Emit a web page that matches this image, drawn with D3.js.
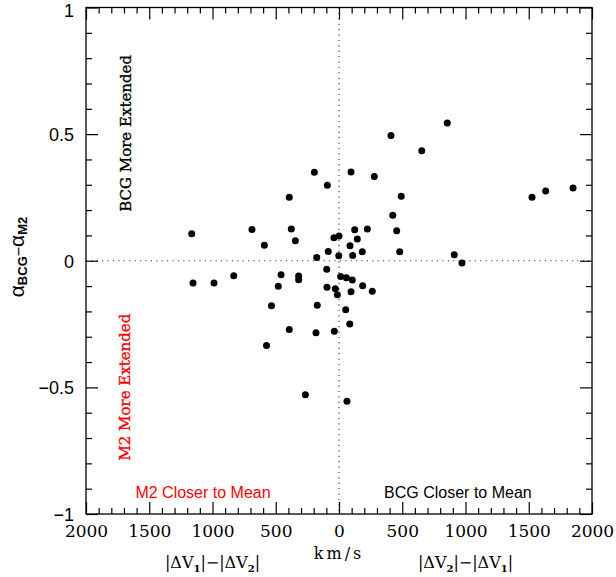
<!DOCTYPE html>
<html>
<head>
<meta charset="utf-8">
<script src="https://cdn.jsdelivr.net/npm/d3@7"></script>
<style>
  html, body { margin: 0; padding: 0; background: #fff; }
  svg { display: block; }
</style>
</head>
<body>
<svg id="chart" width="616" height="577"></svg>
<script>
// Velocity offset |ΔV2|-|ΔV1| (km/s): negative = M2 closer to the cluster mean
const deltaV = [-1164, -1154, -988, -832, -688, -590, -458, -480, -534, -573,
  -393, -377, -345, -319, -319, -393, -266, -195, -92, -176,
  -172, -182, -97, -95, -85, -40, 0, -2, -29, -13,
  -37, 13, 58, 105, 53, 85, 63, 95, 95, 87,
  108, 124, 145, 184, 187, 224, 263, 279, 411, 425,
  456, 480, 492, 654, 856, 911, 972, 1526, 1634, 1850];

// Profile slope difference α_BCG - α_M2
const deltaAlpha = [0.107, -0.088, -0.088, -0.059, 0.123, 0.061, -0.055, -0.101, -0.178, -0.335,
  0.251, 0.125, 0.079, -0.060, -0.075, -0.271, -0.529, 0.349, 0.298, 0.013,
  -0.176, -0.284, -0.034, -0.105, 0.037, 0.091, 0.098, 0.020, -0.111, -0.134,
  -0.278, -0.062, -0.067, -0.076, -0.193, -0.250, -0.555, 0.350, -0.122, 0.059,
  0.021, 0.122, 0.086, 0.036, -0.099, 0.125, -0.120, 0.333, 0.495, 0.180,
  0.118, 0.036, 0.255, 0.434, 0.544, 0.024, -0.009, 0.251, 0.275, 0.287];

const xTicks = [-2000, -1500, -1000, -500, 0, 500, 1000, 1500, 2000];
const yTicks = [-1, -0.5, 0, 0.5, 1];
const yTickLabels = ["\u22121", "\u22120.5", "0", "0.5", "1"];

const xMinor = d3.range(-2000, 2001, 100).filter(v => v % 500 !== 0);
const yMinor = d3.range(-10, 11).map(v => v / 10).filter(v => Math.abs(v * 2 - Math.round(v * 2)) > 1e-6);

const svg = d3.select("#chart");
const L = 86, R = 592, T = 7.5, B = 514;

const x = d3.scaleLinear().domain([-2000, 2000]).range([L, R]);
const y = d3.scaleLinear().domain([-1, 1]).range([B, T]);

// zero reference lines
const zl = svg.append("g").attr("stroke", "#444").attr("stroke-width", 1.2)
  .attr("stroke-dasharray", "1.2,4.2").attr("fill", "none");
zl.append("line").attr("x1", L).attr("x2", R).attr("y1", y(0)).attr("y2", y(0));
zl.append("line").attr("x1", x(0)).attr("x2", x(0)).attr("y1", T).attr("y2", B);

function styleAxis(g) {
  g.select(".domain").remove();
  g.selectAll(".tick line").attr("stroke", "#000").attr("stroke-width", 1.2);
}

// bottom axis with labels
svg.append("g").attr("transform", `translate(0,${B})`)
  .call(d3.axisBottom(x).tickValues(xTicks).tickSize(-12).tickPadding(11)
    .tickFormat(d => Math.abs(d)))
  .call(styleAxis)
  .call(g => g.selectAll("text").attr("font-family", "DejaVu Serif")
    .attr("font-size", 17).attr("fill", "#000"));
svg.append("g").attr("transform", `translate(0,${B})`)
  .call(d3.axisBottom(x).tickValues(xMinor).tickSize(-6).tickFormat(""))
  .call(styleAxis);

// top axis (ticks only)
svg.append("g").attr("transform", `translate(0,${T})`)
  .call(d3.axisTop(x).tickValues(xTicks).tickSize(-12).tickFormat(""))
  .call(styleAxis);
svg.append("g").attr("transform", `translate(0,${T})`)
  .call(d3.axisTop(x).tickValues(xMinor).tickSize(-6).tickFormat(""))
  .call(styleAxis);

// left axis with labels (topmost label nudged down to stay inside the page)
svg.append("g").attr("transform", `translate(${L},0)`)
  .call(d3.axisLeft(y).tickValues(yTicks).tickSize(-12).tickPadding(12)
    .tickFormat((d, i) => yTickLabels[i]))
  .call(styleAxis)
  .call(g => g.selectAll("text").attr("font-family", "Liberation Sans")
    .attr("font-size", 18).attr("fill", "#000")
    .attr("dy", d => d === 1 ? "0.5em" : "0.36em"));
svg.append("g").attr("transform", `translate(${L},0)`)
  .call(d3.axisLeft(y).tickValues(yMinor).tickSize(-6).tickFormat(""))
  .call(styleAxis);

// right axis (ticks only)
svg.append("g").attr("transform", `translate(${R},0)`)
  .call(d3.axisRight(y).tickValues(yTicks).tickSize(-12).tickFormat(""))
  .call(styleAxis);
svg.append("g").attr("transform", `translate(${R},0)`)
  .call(d3.axisRight(y).tickValues(yMinor).tickSize(-6).tickFormat(""))
  .call(styleAxis);

// frame
svg.append("rect").attr("x", L).attr("y", T).attr("width", R - L).attr("height", B - T)
  .attr("fill", "none").attr("stroke", "#000").attr("stroke-width", 1.3);

// data points
const pts = deltaV.map((v, i) => ({ v, a: deltaAlpha[i] }));
svg.append("g").selectAll("circle").data(pts).join("circle")
  .attr("cx", d => x(d.v)).attr("cy", d => y(d.a)).attr("r", 3.5).attr("fill", "#000");

// quadrant annotations
svg.append("text")
  .attr("transform", `translate(${L + 45},${y(0.503)}) rotate(-90)`)
  .attr("text-anchor", "middle").attr("font-family", "DejaVu Serif").attr("font-size", 15)
  .attr("fill", "#000").attr("stroke", "#000").attr("stroke-width", 0.35)
  .text("BCG More Extended");
svg.append("text")
  .attr("transform", `translate(${L + 44},${y(-0.499)}) rotate(-90)`)
  .attr("text-anchor", "middle").attr("font-family", "DejaVu Serif").attr("font-size", 15)
  .attr("fill", "#ff0000").attr("stroke", "#ff0000").attr("stroke-width", 0.35)
  .text("M2 More Extended");
svg.append("text")
  .attr("x", x(-1075)).attr("y", y(-0.936)).attr("text-anchor", "middle")
  .attr("font-family", "Liberation Sans").attr("font-size", 16).attr("fill", "#ff0000")
  .text("M2 Closer to Mean");
svg.append("text")
  .attr("x", x(940)).attr("y", y(-0.936)).attr("text-anchor", "middle")
  .attr("font-family", "Liberation Sans").attr("font-size", 16).attr("fill", "#000")
  .text("BCG Closer to Mean");

// y-axis title: α_BCG − α_M2
const yt = svg.append("text")
  .attr("transform", "translate(24,257) rotate(-90)")
  .attr("text-anchor", "middle").attr("font-family", "Liberation Sans").attr("fill", "#000");
yt.append("tspan").attr("font-size", 21).text("\u03b1");
yt.append("tspan").attr("font-size", 13).attr("font-weight", "bold").attr("dy", 3).text("BCG");
yt.append("tspan").attr("font-size", 16).attr("dy", -3).text("\u2212");
yt.append("tspan").attr("font-size", 21).text("\u03b1");
yt.append("tspan").attr("font-size", 13).attr("font-weight", "bold").attr("dy", 3).text("M2");

// x-axis titles
function deltaLabel(cx, a, b) {
  const t = svg.append("text").attr("x", cx).attr("y", 568).attr("text-anchor", "middle")
    .attr("font-family", "DejaVu Serif").attr("font-size", 16).attr("fill", "#000");
  t.append("tspan").text("|\u0394V");
  t.append("tspan").attr("font-size", 10).attr("font-weight", "bold").attr("dy", 4).text(a);
  t.append("tspan").attr("dy", -4).text("|\u2212|\u0394V");
  t.append("tspan").attr("font-size", 10).attr("font-weight", "bold").attr("dy", 4).text(b);
  t.append("tspan").attr("dy", -4).text("|");
}
deltaLabel(x(-1000), "1", "2");
deltaLabel(x(1000), "2", "1");
svg.append("text").attr("x", x(0)).attr("y", 559).attr("text-anchor", "middle")
  .attr("font-family", "DejaVu Serif").attr("font-size", 16).attr("letter-spacing", 3)
  .attr("fill", "#000").text("km/s");
</script>
</body>
</html>
